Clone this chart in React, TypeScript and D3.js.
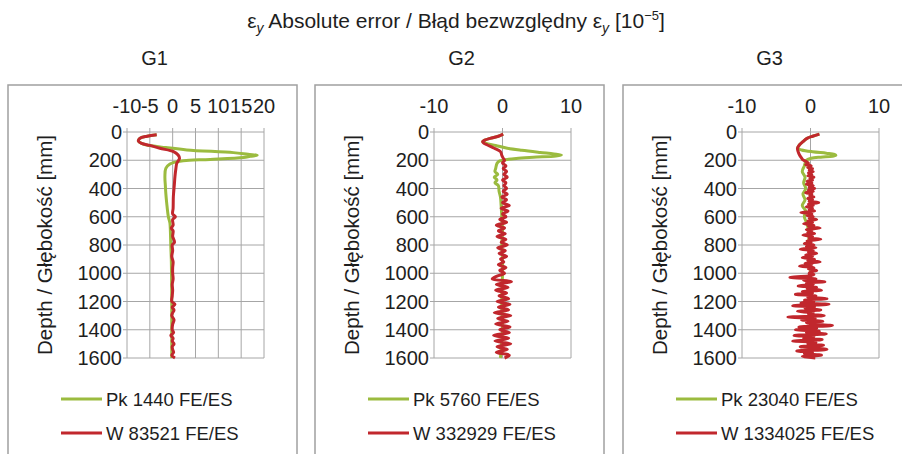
import React from "react";
import * as d3 from "d3";

// ---------- data ----------
const panelTitles = ["G1", "G2", "G3"];
const pkLabels = ["Pk 1440 FE/ES", "Pk 5760 FE/ES", "Pk 23040 FE/ES"];
const wLabels = ["W 83521 FE/ES", "W 332929 FE/ES", "W 1334025 FE/ES"];
const xDomains: [number, number][] = [[-10, 20], [-10, 10], [-10, 10]];
const xTicks = [[-10, -5, 0, 5, 10, 15, 20], [-10, 0, 10], [-10, 0, 10]];
const depthTicks = [0, 200, 400, 600, 800, 1000, 1200, 1400, 1600];

// [depth mm, error 1e-5]
const g1Pk: [number, number][] = [[20,-3.5],[30,-5.6],[45,-7.2],[64,-7.5],[80,-6.8],[92,-5.7],[110,-1.5],[127,3.1],[146,13.3],[158,16.5],[165,18.5],[172,17.0],[180,15.5],[194,8.2],[203,2.3],[215,0.3],[227,-0.6],[257,-1.5],[316,-1.7],[380,-1.6],[434,-1.5],[505,-1.3],[599,-0.95],[645,-0.6],[700,-0.5],[812,-0.4],[900,-0.3],[1000,-0.25],[1200,-0.2],[1400,-0.2],[1600,-0.2]];
const g1W: [number, number][] = [[20,-3.5],[30,-5.6],[45,-7.2],[64,-7.5],[80,-6.8],[95,-5.0],[115,-2.8],[139,0.2],[163,1.2],[186,1.5],[200,1.3],[222,0.9],[260,0.7],[316,0.5],[380,0.35],[458,0.15],[540,0.1],[580,0.0],[600,0.6],[620,0.0],[660,0.1],[680,-0.3],[700,0.1],[740,0.0],[780,0.4],[800,-0.1],[840,0.0],[880,-0.2],[920,0.1],[960,0.0],[1000,0.0],[1040,0.1],[1080,-0.1],[1120,0.0],[1160,-0.1],[1200,-0.2],[1220,0.5],[1240,-0.1],[1260,0.3],[1280,0.0],[1300,-0.2],[1330,0.3],[1360,0.0],[1400,-0.1],[1420,0.2],[1440,-0.4],[1460,0.1],[1480,-0.1],[1500,0.3],[1520,-0.1],[1540,0.0],[1560,0.2],[1580,-0.2],[1600,0.5]];

const g2Pk: [number, number][] = [[15,0.1],[30,-0.6],[45,-1.8],[58,-2.6],[68,-2.9],[80,-2.4],[95,-1.0],[115,0.7],[130,2.8],[145,5.5],[155,7.5],[163,8.6],[170,7.8],[179,4.5],[187,2.0],[194,0.7],[205,-0.4],[222,-0.8],[260,-1.0],[280,-1.1],[300,-0.7],[320,-1.2],[340,-0.8],[360,-1.1],[380,-0.6],[420,-0.5],[460,-0.3],[520,-0.2],[600,-0.1],[700,0.0],[800,-0.1],[900,0.0],[1000,0.0],[1200,-0.1],[1400,0.0],[1600,-0.3]];
const g2WTop: [number, number][] = [[15,0.1],[30,-0.6],[45,-1.8],[58,-2.6],[68,-2.9],[80,-2.7],[92,-2.2],[115,-1.2],[139,-0.3],[165,-0.1],[185,0.1]];
const g2WTailStart = 200;
const g2WTailStep = 20;
const g2WTail = [
  0.3, 0.0, 0.5, 0.1, 0.6, 0.2, 0.7, 0.0, 0.5, 0.2, 0.6,
  0.1, 0.7, -0.1, 0.6, 0.0, 1.0, -0.2, 0.8, 0.0, 0.5,
  -0.4, 0.6, -0.9, 0.3, -0.6, 0.4, -0.8, 0.5, -0.2, 0.7,
  -0.7, 0.4, -0.5, 0.6, -0.3, 0.2, -0.6, 0.5, -0.4, 0.3,
  -0.8, -1.5, 1.3, -0.9, 0.8, -1.0, 0.6, -0.5, 0.9, -0.8,
  1.1, -0.6, 0.9, -1.2, 1.2, -0.7, 0.8, -1.0, 1.1, -0.4,
  1.0, -1.3, 0.9, -1.1, 1.2, -0.8, 0.7, -0.9, 1.0, 0.3,
];

const g3Pk: [number, number][] = [[15,1.3],[30,0.3],[45,-0.5],[68,-1.1],[90,-1.6],[115,-1.9],[127,-1.3],[140,0.3],[150,2.3],[158,3.5],[165,3.7],[172,3.2],[178,1.5],[186,0.1],[200,-0.6],[240,-0.9],[280,-1.2],[320,-0.8],[360,-1.0],[400,-0.7],[440,-1.1],[480,-0.8],[520,-1.2],[560,-0.7],[600,-0.9],[650,-0.5],[700,-0.3],[800,-0.2],[1000,0.0],[1200,0.0],[1400,0.0],[1600,0.0]];
const g3WTop: [number, number][] = [[15,1.3],[30,0.3],[45,-0.5],[68,-1.1],[90,-1.6],[115,-1.9],[140,-1.8],[163,-1.6],[185,-1.3],[198,-1.1]];
const g3WTailStart = 210;
const g3WTailStep = 10;
const g3WTail = [
  -0.6, -0.3, -0.7, 0.1, -0.4, 0.3, -0.2, 0.4, -0.3, 0.2,
  -0.4, 0.5, -0.1, 0.3, -0.5, 0.2, -0.6, 0.4, -0.2, 0.6,
  -0.3, 0.4, -0.7, 0.2, -0.1, 0.5, -0.4, 0.3, -0.2, 1.2,
  -0.3, 0.4, -0.6, 0.3, -0.2, 0.6, -1.4, 0.2, -0.5, 0.4,
  -0.2, 0.9, -0.4, 0.3, -1.0, 0.5, -0.3, 1.4, -0.6, 0.2,
  -0.4, 0.6, -1.1, 0.3, -0.2, 1.5, -0.5, 0.1, -0.9, 0.5,
  -0.6, 0.8, -1.5, 0.4, -0.3, 0.9, -0.7, 0.3, -1.2, 0.6,
  -0.4, 1.4, -0.8, 0.2, -1.6, 0.5, -0.3, 0.9, 0.1, -0.2,
  0.5, -0.4, -3.0, 0.8, -1.0, 2.1, -0.6, 0.4, -1.8, 0.9,
  -0.5, 1.6, -1.2, 0.3, -2.2, 0.8, -0.4, 2.4, -0.9, 0.5,
  -1.4, 2.7, -2.6, 0.6, -0.8, 1.5, -1.9, 0.4, -0.3, 2.0,
  -3.3, 0.7, -1.3, 1.8, -0.6, 0.4, 3.2, -1.7, 0.9, -2.2,
  1.3, -0.6, 2.3, -2.4, 0.5, -1.0, 1.7, -2.6, 0.8, -0.4,
  1.9, -1.5, 0.6, 2.4, -2.0, 0.3, -0.9, 1.6, -1.2, 0.7,
];

const withTail = (top: [number, number][], start: number, step: number, tail: number[]): [number, number][] =>
  top.concat(tail.map((v, i) => [start + i * step, v] as [number, number]));

const pkSeries = [g1Pk, g2Pk, g3Pk];
const wSeries = [g1W, withTail(g2WTop, g2WTailStart, g2WTailStep, g2WTail), withTail(g3WTop, g3WTailStart, g3WTailStep, g3WTail)];

// ---------- layout ----------
const W = 902, H = 454;
const panelLeft = [8, 315, 623];
const panelWidth = 289;
const plotOffset = 119;
const plotWidth = 137;
const plotTop = 132, plotBottom = 358;
const GREEN = "#9bbb3f";
const RED = "#c1272d";
const GRID = "#a6a6a6";
const TEXT = "#1e1e1e";
const FONT = "'Liberation Sans', Arial, sans-serif";

export default function App() {
  const y = d3.scaleLinear().domain([0, 1600]).range([plotTop, plotBottom]);
  return (
    <svg width={W} height={H} style={{ position: "absolute", left: 0, top: 0, background: "#fff" }} fontFamily={FONT}>
      <rect x={0} y={0} width={W} height={H} fill="#fff" />
      <text x={456} y={28} textAnchor="middle" fontSize={21} fill={TEXT}>
        <tspan>ε</tspan>
        <tspan fontStyle="italic" fontSize={14} dy={5}>y</tspan>
        <tspan dy={-5}> Absolute error / Błąd bezwzględny ε</tspan>
        <tspan fontStyle="italic" fontSize={14} dy={5}>y</tspan>
        <tspan dy={-5}> [10</tspan>
        <tspan fontSize={13} dy={-8}>−5</tspan>
        <tspan dy={8}>]</tspan>
      </text>
      {panelTitles.map((t, i) => {
        const L = panelLeft[i];
        const x = d3.scaleLinear().domain(xDomains[i]).range([L + plotOffset, L + plotOffset + plotWidth]);
        const line = d3
          .line<[number, number]>()
          .x((d) => x(d[1]))
          .y((d) => y(d[0]))
          .curve(d3.curveCatmullRom.alpha(0.5));
        const x0 = L + plotOffset, x1 = L + plotOffset + plotWidth;
        return (
          <g key={t}>
            <text x={L + panelWidth / 2 + 2} y={65} textAnchor="middle" fontSize={20} fill={TEXT}>{t}</text>
            <rect x={L} y={85} width={panelWidth} height={H} fill="none" stroke="#a0a0a0" strokeWidth={1.5} />
            {depthTicks.map((d) => (
              <g key={"h" + d}>
                <line x1={x0 - 4} x2={x1} y1={y(d)} y2={y(d)} stroke={GRID} strokeWidth={1} />
                <text x={x0 - 5} y={y(d) + 7} textAnchor="end" fontSize={20} fill={TEXT}>{d}</text>
              </g>
            ))}
            {xTicks[i].map((v) => (
              <g key={"v" + v}>
                <line x1={x(v)} x2={x(v)} y1={plotTop - 4} y2={plotBottom} stroke={GRID} strokeWidth={1} />
                <text x={x(v)} y={113} textAnchor="middle" fontSize={20} fill={TEXT}>{v}</text>
              </g>
            ))}
            <text transform={`translate(${L + 44},${(plotTop + plotBottom) / 2}) rotate(-90)`} textAnchor="middle" fontSize={20.5} fill={TEXT}>
              Depth / Głębokość [mm]
            </text>
            <path d={line(pkSeries[i]) || ""} fill="none" stroke={GREEN} strokeWidth={3} strokeLinejoin="round" />
            <path d={line(wSeries[i]) || ""} fill="none" stroke={RED} strokeWidth={3} strokeLinejoin="round" />
            <line x1={L + 53} x2={L + 94} y1={399} y2={399} stroke={GREEN} strokeWidth={3} />
            <text x={L + 98} y={405.5} fontSize={18.5} fill={TEXT}>{pkLabels[i]}</text>
            <line x1={L + 53} x2={L + 94} y1={433} y2={433} stroke={RED} strokeWidth={3} />
            <text x={L + 98} y={439.5} fontSize={18.5} fill={TEXT}>{wLabels[i]}</text>
          </g>
        );
      })}
    </svg>
  );
}
